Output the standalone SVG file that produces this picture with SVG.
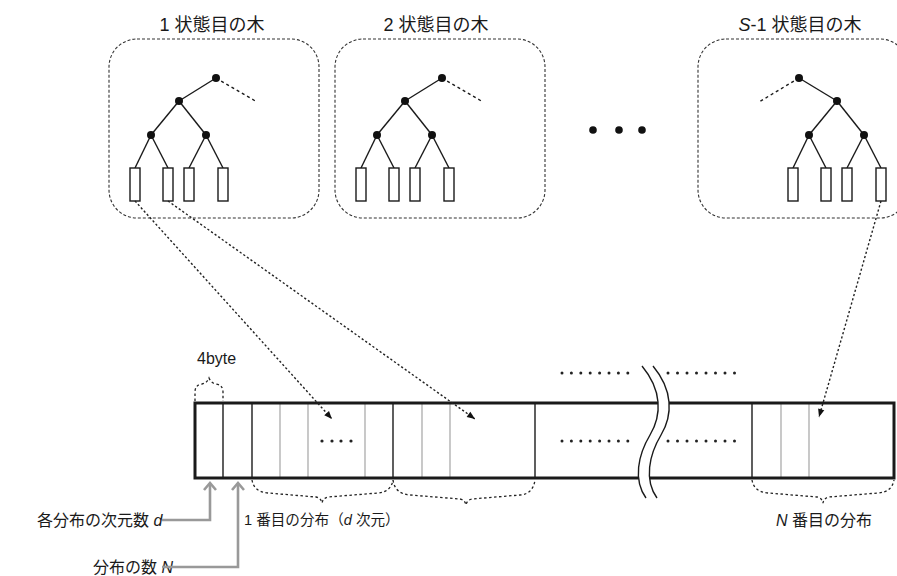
<svg xmlns="http://www.w3.org/2000/svg" width="897" height="576" viewBox="0 0 897 576">
<style>
.box{fill:none;stroke:#333;stroke-width:1.1;stroke-dasharray:3 2}
.edge{stroke:#1a1a1a;stroke-width:1.4;fill:none}
.dedge{stroke:#1a1a1a;stroke-width:1.4;fill:none;stroke-dasharray:3 3}
.leaf{fill:#fff;stroke:#1a1a1a;stroke-width:1.4}
.node{fill:#111}
.ttl{font-family:"Liberation Sans","Noto Sans CJK JP",sans-serif;font-size:18px;fill:#1a1a1a;text-anchor:middle}
.lbl{font-family:"Liberation Sans","Noto Sans CJK JP",sans-serif;font-size:16px;fill:#1a1a1a}
.lbs{font-family:"Liberation Sans","Noto Sans CJK JP",sans-serif;font-size:14.6px;fill:#1a1a1a}
.it{font-style:italic}
.link{stroke:#222;stroke-width:1.4;fill:none;stroke-dasharray:2.2 2.2}
.brace{stroke:#222;stroke-width:1.3;fill:none;stroke-dasharray:2.5 2.5}
.gray{stroke:#999;stroke-width:2.6;fill:none}
.thin{stroke:#1a1a1a;stroke-width:1.4}
.gl{stroke:#bbb;stroke-width:1.6}
.dot{fill:#222}
</style>
<defs>
<marker id="ah" viewBox="0 0 10 10" refX="10" refY="5" markerWidth="9" markerHeight="8" markerUnits="userSpaceOnUse" orient="auto">
<path d="M0,1 L10,5 L0,9 z" fill="#111"/>
</marker>
<g id="lowertree">
<line class="edge" x1="0" y1="0" x2="-28" y2="34"/>
<line class="edge" x1="0" y1="0" x2="27" y2="34"/>
<line class="edge" x1="-28" y1="34" x2="-44" y2="67"/>
<line class="edge" x1="-28" y1="34" x2="-11" y2="67"/>
<line class="edge" x1="27" y1="34" x2="10" y2="67"/>
<line class="edge" x1="27" y1="34" x2="44" y2="67"/>
<rect class="leaf" x="-49" y="67" width="10" height="33"/>
<rect class="leaf" x="-16" y="67" width="10" height="33"/>
<rect class="leaf" x="5" y="67" width="10" height="33"/>
<rect class="leaf" x="39" y="67" width="10" height="33"/>
<circle class="node" cx="0" cy="0" r="4"/>
<circle class="node" cx="-28" cy="34" r="4"/>
<circle class="node" cx="27" cy="34" r="4"/>
</g>
</defs>

<g id="tree1">
<rect class="box" x="109" y="39" width="210" height="179" rx="28"/>
<text class="ttl" x="212" y="31">1 状態目の木</text>
<line class="dedge" x1="216" y1="78" x2="257" y2="102"/>
<line class="edge" x1="216" y1="78" x2="179" y2="101"/>
<circle class="node" cx="216" cy="78" r="4"/>
<use href="#lowertree" x="179" y="101"/>
</g>

<g id="tree2">
<rect class="box" x="335" y="39" width="210" height="179" rx="28"/>
<text class="ttl" x="436" y="31">2 状態目の木</text>
<line class="dedge" x1="442" y1="78" x2="483" y2="102"/>
<line class="edge" x1="442" y1="78" x2="405" y2="101"/>
<circle class="node" cx="442" cy="78" r="4"/>
<use href="#lowertree" x="405" y="101"/>
</g>

<g id="ellipsis">
<circle class="node" cx="593" cy="130" r="3.8"/>
<circle class="node" cx="619" cy="130" r="3.8"/>
<circle class="node" cx="642" cy="130" r="3.8"/>
</g>

<g id="tree3">
<rect class="box" x="698" y="39" width="210" height="179" rx="28"/>
<text class="ttl" x="800" y="31"><tspan class="it">S</tspan>-1 状態目の木</text>
<line class="dedge" x1="799" y1="78" x2="759" y2="102"/>
<line class="edge" x1="799" y1="78" x2="837" y2="101"/>
<circle class="node" cx="799" cy="78" r="4"/>
<use href="#lowertree" x="837" y="101"/>
</g>

<g id="memory">
<rect x="195" y="403" width="699" height="75" fill="#fff" stroke="none"/>
<line class="thin" x1="223" y1="403" x2="223" y2="478"/>
<line class="thin" x1="252" y1="403" x2="252" y2="478"/>
<line class="gl" x1="280" y1="404" x2="280" y2="477"/>
<line class="gl" x1="308" y1="404" x2="308" y2="477"/>
<line class="gl" x1="365" y1="404" x2="365" y2="477"/>
<line class="thin" x1="393" y1="403" x2="393" y2="478"/>
<line class="gl" x1="422" y1="404" x2="422" y2="477"/>
<line class="gl" x1="450" y1="404" x2="450" y2="477"/>
<line class="thin" x1="535" y1="403" x2="535" y2="478"/>
<line class="thin" x1="752" y1="403" x2="752" y2="478"/>
<line class="gl" x1="781" y1="404" x2="781" y2="477"/>
<line class="gl" x1="809" y1="404" x2="809" y2="477"/>
<rect x="195" y="403" width="699" height="75" fill="none" stroke="#1a1a1a" stroke-width="3"/>
<g class="dot">
<circle cx="322" cy="441" r="1.6"/><circle cx="332" cy="441" r="1.6"/><circle cx="341" cy="441" r="1.6"/><circle cx="351" cy="441" r="1.6"/>
<circle cx="562" cy="373" r="1.5"/><circle cx="571.4" cy="373" r="1.5"/><circle cx="580.8" cy="373" r="1.5"/><circle cx="590.2" cy="373" r="1.5"/><circle cx="599.6" cy="373" r="1.5"/><circle cx="609" cy="373" r="1.5"/><circle cx="618.4" cy="373" r="1.5"/><circle cx="627.8" cy="373" r="1.5"/>
<circle cx="668" cy="373" r="1.5"/><circle cx="677.5" cy="373" r="1.5"/><circle cx="687" cy="373" r="1.5"/><circle cx="696.5" cy="373" r="1.5"/><circle cx="706" cy="373" r="1.5"/><circle cx="715.5" cy="373" r="1.5"/><circle cx="725" cy="373" r="1.5"/><circle cx="734.5" cy="373" r="1.5"/>
<circle cx="562" cy="441" r="1.5"/><circle cx="571.4" cy="441" r="1.5"/><circle cx="580.8" cy="441" r="1.5"/><circle cx="590.2" cy="441" r="1.5"/><circle cx="599.6" cy="441" r="1.5"/><circle cx="609" cy="441" r="1.5"/><circle cx="618.4" cy="441" r="1.5"/><circle cx="627.8" cy="441" r="1.5"/>
<circle cx="668" cy="441" r="1.5"/><circle cx="677.5" cy="441" r="1.5"/><circle cx="687" cy="441" r="1.5"/><circle cx="696.5" cy="441" r="1.5"/><circle cx="706" cy="441" r="1.5"/><circle cx="715.5" cy="441" r="1.5"/><circle cx="725" cy="441" r="1.5"/><circle cx="734.5" cy="441" r="1.5"/>
</g>
<path d="M642,366 C662,390 662,415 650,435 C638,455 633,480 646,498 L657,498 C644,480 649,455 661,435 C673,415 673,390 653,366 Z" fill="#fff" stroke="none"/>
<path d="M642,366 C662,390 662,415 650,435 C638,455 633,480 646,498" fill="none" stroke="#1a1a1a" stroke-width="1.4"/>
<path d="M653,366 C673,390 673,415 661,435 C649,455 644,480 657,498" fill="none" stroke="#1a1a1a" stroke-width="1.4"/>
<text class="lbl" x="197" y="364">4byte</text>
<path class="brace" d="M195,401 L195,392 Q195,385 202,384 Q207,383 209,378 Q211,383 216,384 Q223,385 223,392 L223,401"/>
<path class="brace" d="M252,480 Q254,492 268,493 L316,497 Q321,498 322,503 Q323,498 328,497 L378,493 Q391,492 393,480"/>
<path class="brace" d="M393,480 Q395,494 410,495 L460,499 Q465,500 466,505 Q467,500 472,499 L520,495 Q533,494 535,480"/>
<path class="brace" d="M752,480 Q754,492 768,493 L817,497 Q822,498 823,503 Q824,498 829,497 L878,493 Q892,492 894,480"/>
<text class="lbs" x="244" y="525">1 番目の分布（<tspan class="it">d</tspan> 次元）</text>
<text class="lbl" x="776" y="526" font-size="15"><tspan class="it">N</tspan> 番目の分布</text>
</g>

<g id="labels">
<text class="lbl" x="37" y="526">各分布の次元数 <tspan class="it">d</tspan></text>
<text class="lbl" x="93" y="573">分布の数 <tspan class="it">N</tspan></text>
</g>

<g id="connectors">
<line class="link" x1="135" y1="201" x2="332" y2="419" marker-end="url(#ah)"/>
<line class="link" x1="168" y1="201" x2="475" y2="419" marker-end="url(#ah)"/>
<line class="link" x1="881" y1="201" x2="819" y2="417" marker-end="url(#ah)"/>
<polyline class="gray" points="162,520 210,520 210,483"/>
<polyline class="gray" points="204,490 210,483 216,490"/>
<polyline class="gray" points="162,567 238,567 238,483"/>
<polyline class="gray" points="232,490 238,483 244,490"/>
</g>
</svg>
